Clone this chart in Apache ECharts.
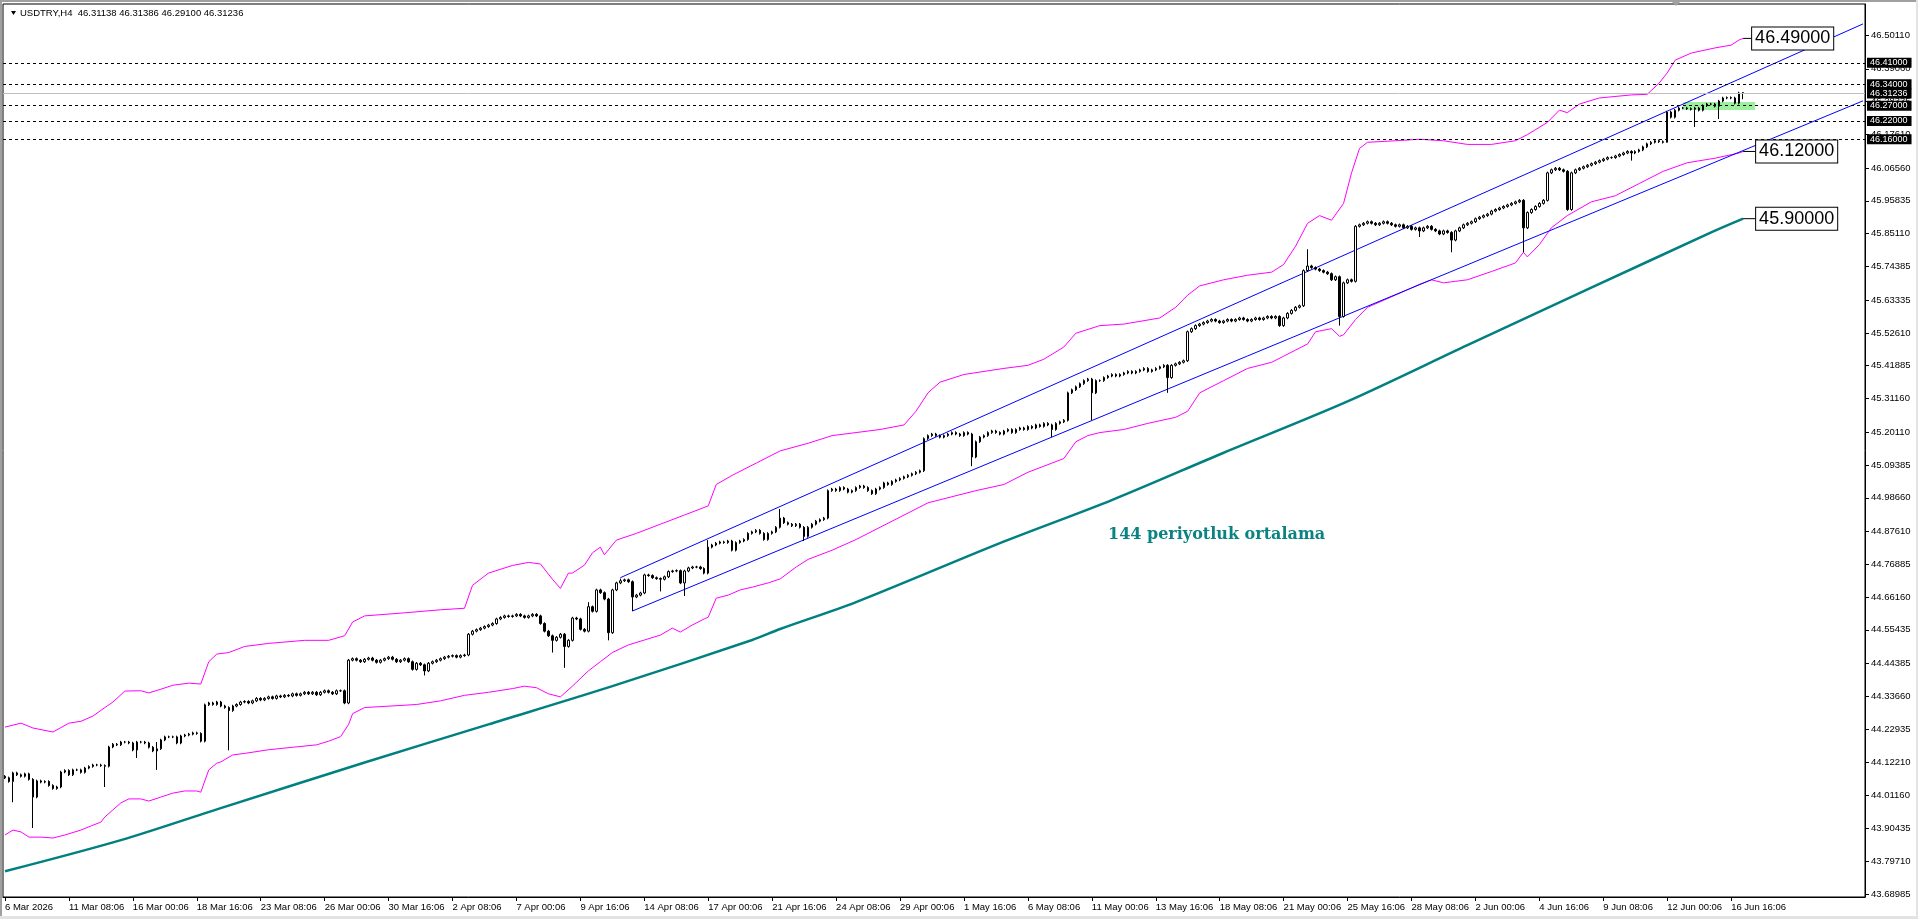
<!DOCTYPE html>
<html>
<head>
<meta charset="utf-8">
<script src="https://cdn.jsdelivr.net/npm/echarts@6/dist/echarts.min.js"></script>
<style>
  html, body { margin: 0; padding: 0; background: #fff; }
  #chart { width: 1918px; height: 919px; }
</style>
</head>
<body>
<div id="chart"></div>
<script>
// x axis labels, one every 16 bars (H4)
const tickLabels = [
  '6 Mar 2026', '11 Mar 08:06', '16 Mar 00:06', '18 Mar 16:06', '23 Mar 08:06', '26 Mar 00:06',
  '30 Mar 16:06', '2 Apr 08:06', '7 Apr 00:06', '9 Apr 16:06', '14 Apr 08:06', '17 Apr 00:06',
  '21 Apr 16:06', '24 Apr 08:06', '29 Apr 00:06', '1 May 16:06', '6 May 08:06', '11 May 00:06',
  '13 May 16:06', '18 May 08:06', '21 May 00:06', '25 May 16:06', '28 May 08:06', '2 Jun 00:06',
  '4 Jun 16:06', '9 Jun 08:06', '12 Jun 00:06', '16 Jun 16:06'
];

// right price scale
const priceTicks = [
  46.50110, 46.39060, 46.28335, 46.17610, 46.06560, 45.95835, 45.85110, 45.74385, 45.63335,
  45.52610, 45.41885, 45.31160, 45.20110, 45.09385, 44.98660, 44.87610, 44.76885, 44.66160,
  44.55435, 44.44385, 44.33660, 44.22935, 44.12210, 44.01160, 43.90435, 43.79710, 43.68985
];

// candle closes (open = previous close)
const firstOpen = 44.075;
const closes = [
  44.070, 44.058, 44.086, 44.080, 44.075, 44.083, 44.065, 44.007, 44.060, 44.056,
  44.058, 44.045, 44.035, 44.040, 44.089, 44.094, 44.080, 44.096, 44.096, 44.088,
  44.102, 44.107, 44.112, 44.112, 44.110, 44.108, 44.171, 44.180, 44.178, 44.187,
  44.187, 44.184, 44.161, 44.187, 44.187, 44.184, 44.170, 44.158, 44.165, 44.194,
  44.204, 44.204, 44.204, 44.184, 44.207, 44.210, 44.213, 44.217, 44.215, 44.190,
  44.309, 44.315, 44.310, 44.318, 44.305, 44.300, 44.290, 44.305, 44.310, 44.318,
  44.320, 44.315, 44.322, 44.330, 44.325, 44.330, 44.335, 44.330, 44.338, 44.335,
  44.340, 44.338, 44.345, 44.340, 44.345, 44.350, 44.345, 44.350, 44.342, 44.350,
  44.355, 44.350, 44.345, 44.355, 44.355, 44.315, 44.455, 44.460, 44.455, 44.450,
  44.458, 44.462, 44.455, 44.448, 44.455, 44.460, 44.465, 44.458, 44.450, 44.455,
  44.460, 44.450, 44.425, 44.445, 44.440, 44.420, 44.445, 44.450, 44.455, 44.460,
  44.465, 44.468, 44.470, 44.465, 44.470, 44.472, 44.540, 44.550, 44.555, 44.560,
  44.565, 44.570, 44.575, 44.590, 44.595, 44.600, 44.598, 44.600, 44.605, 44.600,
  44.595, 44.600, 44.605, 44.600, 44.575, 44.550, 44.535, 44.520, 44.530, 44.540,
  44.500, 44.520, 44.593, 44.590, 44.556, 44.550, 44.630, 44.615, 44.685, 44.676,
  44.655, 44.545, 44.685, 44.708, 44.715, 44.718, 44.712, 44.662, 44.668, 44.675,
  44.734, 44.732, 44.725, 44.722, 44.720, 44.728, 44.745, 44.747, 44.748, 44.708,
  44.747, 44.757, 44.760, 44.760, 44.755, 44.740, 44.825, 44.832, 44.838, 44.842,
  44.840, 44.845, 44.815, 44.840, 44.845, 44.850, 44.870, 44.875, 44.880, 44.870,
  44.850, 44.870, 44.875, 44.890, 44.920, 44.905, 44.900, 44.895, 44.900, 44.890,
  44.860, 44.890, 44.900, 44.910, 44.915, 44.920, 45.010, 45.015, 45.010, 45.020,
  45.015, 45.005, 45.010, 45.020, 45.025, 45.020, 45.010, 45.000, 45.015, 45.020,
  45.035, 45.030, 45.040, 45.045, 45.050, 45.055, 45.060, 45.065, 45.070, 45.075,
  45.180, 45.190, 45.195, 45.190, 45.185, 45.190, 45.195, 45.200, 45.195, 45.190,
  45.200, 45.195, 45.120, 45.170, 45.185, 45.190, 45.200, 45.205, 45.200, 45.195,
  45.205, 45.210, 45.200, 45.210, 45.215, 45.210, 45.220, 45.215, 45.225, 45.220,
  45.230, 45.225, 45.210, 45.230, 45.235, 45.240, 45.330, 45.340, 45.350, 45.360,
  45.370, 45.375, 45.330, 45.370, 45.370, 45.380, 45.385, 45.390, 45.385, 45.390,
  45.395, 45.400, 45.395, 45.400, 45.405, 45.410, 45.400, 45.405, 45.410, 45.415,
  45.420, 45.380, 45.420, 45.425, 45.430, 45.435, 45.530, 45.540, 45.550, 45.555,
  45.560, 45.565, 45.570, 45.565, 45.560, 45.565, 45.570, 45.565, 45.570, 45.575,
  45.570, 45.565, 45.570, 45.575, 45.570, 45.575, 45.580, 45.575, 45.580, 45.550,
  45.575, 45.590, 45.600, 45.610, 45.615, 45.730, 45.745, 45.740, 45.735, 45.730,
  45.725, 45.720, 45.700, 45.710, 45.580, 45.690, 45.700, 45.695, 45.875, 45.880,
  45.885, 45.890, 45.885, 45.880, 45.885, 45.890, 45.885, 45.880, 45.875, 45.880,
  45.870, 45.875, 45.865, 45.870, 45.860, 45.870, 45.875, 45.865, 45.860, 45.850,
  45.860, 45.855, 45.830, 45.860, 45.870, 45.880, 45.885, 45.890, 45.900, 45.905,
  45.910, 45.915, 45.925, 45.930, 45.935, 45.940, 45.945, 45.950, 45.955, 45.960,
  45.870, 45.920, 45.930, 45.940, 45.950, 45.960, 46.050, 46.060, 46.065, 46.060,
  46.055, 45.930, 46.050, 46.060, 46.065, 46.070, 46.075, 46.080, 46.085, 46.090,
  46.095, 46.100, 46.100, 46.105, 46.110, 46.115, 46.120, 46.115, 46.120, 46.125,
  46.135, 46.145, 46.150, 46.155, 46.152, 46.150, 46.249, 46.232, 46.255, 46.262,
  46.262, 46.260, 46.258, 46.262, 46.255, 46.270, 46.275, 46.275, 46.268, 46.285,
  46.295, 46.296, 46.295, 46.278, 46.31138, 46.31236
];
// long wicks (bar index -> price)
const wickLows = {
  2: 43.99, 7: 43.906, 25: 44.04, 33: 44.135, 38: 44.096, 56: 44.16, 105: 44.405,
  137: 44.48, 140: 44.43, 151: 44.52, 157: 44.616, 164: 44.68, 170: 44.665, 200: 44.845,
  242: 45.09, 262: 45.185, 272: 45.24, 291: 45.33, 334: 45.55, 354: 45.84, 362: 45.79,
  380: 45.79, 407: 46.09, 416: 46.165, 423: 46.20, 429: 46.226, 435: 46.291
};
const wickHighs = {
  38: 44.187, 146: 44.645, 154: 44.722, 176: 44.848, 194: 44.95, 326: 45.80, 435: 46.31386
};

// envelope bands and 144 MA, [bar, price]
const upperBand = [
  [0, 44.236], [4, 44.249], [7, 44.233], [12, 44.22], [16, 44.249], [19, 44.255], [22, 44.272],
  [25, 44.30], [27, 44.318], [30, 44.354], [34, 44.355], [36, 44.348], [39, 44.36], [42, 44.373],
  [46, 44.38], [49, 44.377], [51, 44.45], [53, 44.475], [56, 44.48], [60, 44.50], [66, 44.51],
  [75, 44.52], [81, 44.52], [85, 44.535], [87, 44.58], [90, 44.60], [100, 44.61], [109, 44.62],
  [115, 44.625], [117, 44.70], [121, 44.74], [127, 44.765], [131, 44.775], [134, 44.77],
  [137, 44.72], [139, 44.69], [141, 44.74], [142, 44.74], [145, 44.766], [147, 44.806],
  [149, 44.825], [150, 44.80], [153, 44.848], [158, 44.87], [164, 44.90], [170, 44.93],
  [176, 44.96], [178, 45.03], [182, 45.06], [188, 45.10], [194, 45.14], [201, 45.165],
  [207, 45.19], [213, 45.20], [219, 45.21], [225, 45.225], [228, 45.27], [231, 45.33],
  [234, 45.365], [240, 45.39], [250, 45.41], [256, 45.42], [260, 45.44], [265, 45.48],
  [268, 45.525], [274, 45.55], [280, 45.555], [289, 45.575], [293, 45.61], [296, 45.65],
  [299, 45.68], [305, 45.70], [311, 45.715], [317, 45.725], [320, 45.75], [323, 45.81],
  [326, 45.885], [329, 45.91], [332, 45.895], [335, 45.95], [337, 46.05], [339, 46.13],
  [341, 46.15], [348, 46.155], [354, 46.16], [360, 46.155], [366, 46.143], [372, 46.143],
  [378, 46.155], [381, 46.175], [386, 46.215], [389, 46.255], [391, 46.247], [394, 46.275],
  [399, 46.295], [407, 46.305], [411, 46.307], [414, 46.344], [416, 46.377], [418, 46.419],
  [422, 46.442], [428, 46.459], [432, 46.468], [434, 46.485], [435, 46.49]
];
const lowerBand = [
  [0, 43.883], [2, 43.899], [4, 43.893], [6, 43.876], [9, 43.876], [12, 43.873], [15, 43.883],
  [19, 43.899], [22, 43.915], [24, 43.925], [25, 43.942], [27, 43.965], [29, 43.988], [31, 44.001],
  [34, 44.001], [36, 43.994], [39, 44.007], [42, 44.02], [45, 44.027], [48, 44.027], [49, 44.023],
  [51, 44.096], [53, 44.118], [54, 44.122], [57, 44.145], [60, 44.15], [66, 44.162], [72, 44.17],
  [78, 44.178], [81, 44.19], [84, 44.205], [86, 44.245], [87, 44.28], [90, 44.30], [103, 44.31],
  [109, 44.322], [115, 44.34], [121, 44.35], [127, 44.362], [130, 44.37], [133, 44.365],
  [136, 44.345], [139, 44.335], [142, 44.37], [146, 44.42], [149, 44.45], [152, 44.48],
  [156, 44.505], [160, 44.521], [164, 44.537], [167, 44.56], [169, 44.547], [172, 44.57],
  [175, 44.59], [176, 44.596], [178, 44.658], [181, 44.668], [184, 44.685], [187, 44.694],
  [191, 44.708], [194, 44.721], [198, 44.76], [201, 44.785], [207, 44.815], [213, 44.85],
  [219, 44.89], [225, 44.93], [231, 44.97], [237, 44.99], [243, 45.01], [250, 45.03],
  [256, 45.07], [262, 45.10], [265, 45.115], [268, 45.17], [271, 45.19], [274, 45.20],
  [280, 45.21], [286, 45.23], [293, 45.25], [296, 45.27], [299, 45.33], [305, 45.37],
  [311, 45.41], [317, 45.43], [320, 45.45], [323, 45.47], [326, 45.49], [328, 45.53],
  [332, 45.54], [334, 45.515], [335, 45.52], [338, 45.57], [341, 45.61], [348, 45.65],
  [354, 45.685], [357, 45.70], [360, 45.69], [363, 45.695], [366, 45.70], [372, 45.727],
  [378, 45.755], [380, 45.79], [381, 45.775], [384, 45.815], [387, 45.87], [391, 45.91],
  [397, 45.955], [403, 45.975], [409, 46.015], [415, 46.055], [421, 46.083], [428, 46.098],
  [434, 46.115], [435, 46.12]
];
const ma144 = [
  [0, 43.764], [29, 43.866], [54, 43.971], [90, 44.12], [121, 44.245], [152, 44.37],
  [187, 44.521], [194, 44.557], [213, 44.645], [249, 44.838], [277, 44.979], [305, 45.134],
  [336, 45.302], [366, 45.486], [397, 45.674], [427, 45.855], [435, 45.90]
];

// trend channel
const channelTop = [[154, 44.725], [465, 46.5374]];
const channelBottom = [[157, 44.6159], [465, 46.2857]];

// horizontal levels and price tags
const levels = [46.41, 46.34, 46.27, 46.22, 46.16];
const bidPrice = 46.31236;
const zone = { from: 420, to: 438, top: 46.2818, bottom: 46.2556 };
const tags = [
  { value: 46.49, end: 437 },
  { value: 46.12, end: 438 },
  { value: 45.90, end: 438 }
];

const slotCount = 466;
const categories = Array.from({ length: slotCount }, (_, i) => String(i));

const candles = closes.map((c, i) => {
  const o = i === 0 ? firstOpen : closes[i - 1];
  let lo = Math.min(o, c) - 0.004;
  let hi = Math.max(o, c) + 0.004;
  if (wickLows[i] !== undefined) lo = wickLows[i];
  if (wickHighs[i] !== undefined) hi = wickHighs[i];
  return [o, c, lo, hi];
});

const FONT = 'Liberation Sans, Arial, sans-serif';
const chart = echarts.init(document.getElementById('chart'), null, { renderer: 'canvas' });

const levelLines = levels.map(v => ({
  yAxis: v,
  lineStyle: { color: '#000', type: [3, 3], width: 1 },
  label: { formatter: v.toFixed(5) }
}));
levelLines.push({
  yAxis: bidPrice,
  lineStyle: { color: '#c0c0c0', type: 'solid', width: 1 },
  label: { formatter: bidPrice.toFixed(5) }
});

const tagSeries = tags.map(t => ({
  type: 'line',
  data: [[435, t.value], [t.end, t.value]],
  symbol: 'none',
  lineStyle: { color: '#000', width: 1 },
  z: 6,
  silent: true,
  endLabel: {
    show: true,
    formatter: t.value.toFixed(5),
    distance: 1,
    color: '#000',
    fontFamily: FONT,
    fontSize: 18,
    lineHeight: 19,
    backgroundColor: '#fff',
    borderColor: '#000',
    borderWidth: 1,
    padding: [2, 3, 1, 3]
  }
}));

chart.setOption({
  animation: false,
  backgroundColor: '#fff',
  grid: {
    left: 3, right: 53, top: 4, bottom: 22,
    show: true, borderColor: '#000', borderWidth: 1, backgroundColor: 'transparent'
  },
  xAxis: {
    type: 'category',
    data: categories,
    boundaryGap: true,
    axisLine: { show: true, lineStyle: { color: '#000' } },
    axisTick: {
      show: true,
      alignWithLabel: true,
      interval: i => i % 16 === 0 && i / 16 < tickLabels.length,
      length: 4,
      lineStyle: { color: '#000' }
    },
    axisLabel: {
      interval: i => i % 16 === 0 && i / 16 < tickLabels.length,
      formatter: (v, i) => tickLabels[Math.round(Number(v) / 16)] || '',
      align: 'left',
      margin: 5,
      color: '#000',
      fontFamily: FONT,
      fontSize: 9.5
    },
    splitLine: { show: false }
  },
  yAxis: {
    type: 'value',
    position: 'right',
    min: 43.6800,
    max: 46.6026,
    axisLine: { show: true, lineStyle: { color: '#000' } },
    axisTick: { show: true, customValues: priceTicks, length: 4, lineStyle: { color: '#000' } },
    axisLabel: {
      customValues: priceTicks,
      formatter: v => v.toFixed(5),
      margin: 6,
      color: '#000',
      fontFamily: FONT,
      fontSize: 9.5
    },
    splitLine: { show: false }
  },
  graphic: [
    { type: 'rect', shape: { x: 0, y: 0, width: 1918, height: 2 }, style: { fill: '#a0a0a0' }, silent: true },
    { type: 'rect', shape: { x: 0, y: 0, width: 2, height: 919 }, style: { fill: '#a0a0a0' }, silent: true },
    { type: 'rect', shape: { x: 1916, y: 0, width: 2, height: 919 }, style: { fill: '#e3e3e3' }, silent: true },
    { type: 'rect', shape: { x: 0, y: 916, width: 1918, height: 3 }, style: { fill: '#e3e3e3' }, silent: true },
    { type: 'polygon', shape: { points: [[11, 11], [16, 11], [13.5, 15]] }, style: { fill: '#000' }, silent: true },
    {
      type: 'text', left: 20, top: 8, silent: true,
      style: { text: 'USDTRY,H4  46.31138 46.31386 46.29100 46.31236', fill: '#000', font: '9.5px ' + FONT }
    },
    { type: 'polygon', shape: { points: [[1671, 1], [1681, 1], [1676, 6]] }, style: { fill: '#a0a0a0' }, silent: true },
    {
      type: 'text', left: 1108, top: 527, silent: true,
      style: { text: '144 periyotluk ortalama', fill: '#0b8383', font: 'bold 16px DejaVu Serif, serif' }
    }
  ],
  series: [
    {
      name: 'levels',
      type: 'line',
      data: [],
      z: 1,
      silent: true,
      markArea: {
        silent: true,
        itemStyle: { color: '#9cef9c' },
        data: [[{ coord: [zone.from, zone.top] }, { coord: [zone.to, zone.bottom] }]]
      },
      markLine: {
        silent: true,
        symbol: 'none',
        animation: false,
        label: {
          position: 'end',
          distance: 2,
          color: '#fff',
          backgroundColor: '#000',
          fontFamily: FONT,
          fontSize: 9,
          lineHeight: 10,
          padding: [0, 4, 0, 3]
        },
        data: levelLines
      }
    },
    {
      name: 'MA144',
      type: 'line',
      data: ma144,
      symbol: 'none',
      smooth: 0.3,
      lineStyle: { color: '#008080', width: 2.5 },
      z: 2,
      silent: true
    },
    {
      name: 'upper',
      type: 'line',
      data: upperBand,
      symbol: 'none',
      lineStyle: { color: '#ff00ff', width: 1 },
      z: 2,
      silent: true
    },
    {
      name: 'lower',
      type: 'line',
      data: lowerBand,
      symbol: 'none',
      lineStyle: { color: '#ff00ff', width: 1 },
      z: 2,
      silent: true
    },
    {
      name: 'channelTop',
      type: 'line',
      data: channelTop,
      symbol: 'none',
      lineStyle: { color: '#0000ff', width: 1 },
      z: 3,
      silent: true
    },
    {
      name: 'channelBottom',
      type: 'line',
      data: channelBottom,
      symbol: 'none',
      lineStyle: { color: '#0000ff', width: 1 },
      z: 3,
      silent: true
    },
    {
      name: 'USDTRY',
      type: 'candlestick',
      data: candles,
      barWidth: 2,
      z: 4,
      silent: true,
      itemStyle: {
        color: '#ffffff',
        color0: '#000000',
        borderColor: '#000000',
        borderColor0: '#000000',
        borderColorDoji: '#000000',
        borderWidth: 1
      }
    },
    ...tagSeries
  ]
});
</script>
</body>
</html>
